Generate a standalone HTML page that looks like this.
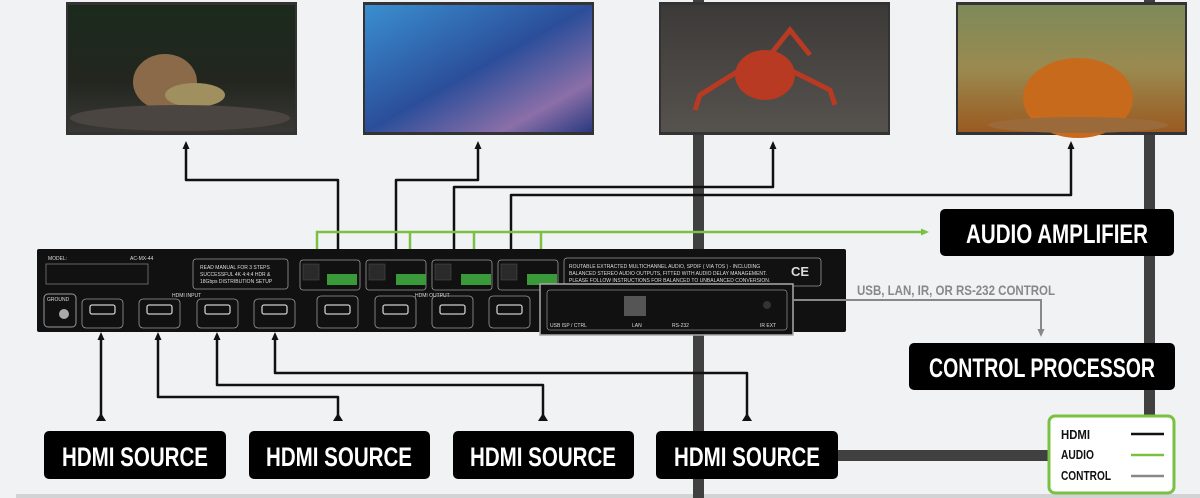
<!DOCTYPE html>
<html><head><meta charset="utf-8"><style>
html,body{margin:0;padding:0;background:#f1f2f4;}
svg{display:block}
.lbl{font-family:"Liberation Sans Narrow","Liberation Sans",sans-serif;font-weight:bold;fill:#fff}
.t{font-family:"Liberation Sans",sans-serif;fill:#ddd}
</style></head><body>
<svg width="1200" height="498" viewBox="0 0 1200 498" xmlns="http://www.w3.org/2000/svg">
<defs>
<linearGradient id="g1" x1="0" y1="0" x2="0" y2="1"><stop offset="0" stop-color="#1c2a1e"/><stop offset="0.6" stop-color="#22261f"/><stop offset="1" stop-color="#3a3835"/></linearGradient>
<linearGradient id="g2" x1="0" y1="0" x2="1" y2="1"><stop offset="0" stop-color="#3a8fd0"/><stop offset="0.5" stop-color="#2b4e9a"/><stop offset="0.8" stop-color="#8b6fa8"/><stop offset="1" stop-color="#2a3a80"/></linearGradient>
<linearGradient id="g3" x1="0" y1="0" x2="0" y2="1"><stop offset="0" stop-color="#3c3a38"/><stop offset="1" stop-color="#56524e"/></linearGradient>
<linearGradient id="g4" x1="0" y1="0" x2="0" y2="1"><stop offset="0" stop-color="#7d8a5a"/><stop offset="0.5" stop-color="#9a8a50"/><stop offset="1" stop-color="#9a5a20"/></linearGradient>
<marker id="ab" markerUnits="userSpaceOnUse" markerWidth="8" markerHeight="8" refX="5" refY="4" orient="auto"><path d="M0,0.5 L8,4 L0,7.5z" fill="#111"/></marker>
<marker id="ag" markerUnits="userSpaceOnUse" markerWidth="8" markerHeight="8" refX="5" refY="4" orient="auto"><path d="M0,0.5 L8,4 L0,7.5z" fill="#7ac143"/></marker>
<marker id="ac" markerUnits="userSpaceOnUse" markerWidth="8" markerHeight="8" refX="5" refY="4" orient="auto"><path d="M0,0.5 L8,4 L0,7.5z" fill="#888"/></marker>
</defs>
<rect x="16" y="494" width="1184" height="4" fill="#d2d3d5"/>
<rect x="693" y="0" width="11" height="498" fill="#404040"/>
<rect x="1144" y="0" width="11" height="420" fill="#404040"/>
<rect x="838" y="450" width="212" height="11" fill="#404040"/>
<!-- monitors -->
<rect x="66" y="2" width="231" height="133" fill="#333"/>
<rect x="68" y="5" width="227" height="127" fill="url(#g1)"/>
<ellipse cx="165" cy="82" rx="32" ry="28" fill="#8a6a48"/><ellipse cx="195" cy="95" rx="30" ry="12" fill="#a09060"/><ellipse cx="180" cy="118" rx="110" ry="13" fill="#4a4540"/>
<rect x="363" y="2" width="231" height="133" fill="#333"/>
<rect x="365" y="5" width="227" height="127" fill="url(#g2)"/>
<rect x="659" y="2" width="231" height="133" fill="#333"/>
<rect x="661" y="5" width="227" height="127" fill="url(#g3)"/>
<ellipse cx="765" cy="75" rx="30" ry="25" fill="#b83a22"/>
<g stroke="#b83a22" stroke-width="5" fill="none"><path d="M740,70 L700,95 L695,110"/><path d="M790,70 L830,90 L835,105"/><path d="M770,55 L790,30 L810,55"/></g>
<rect x="956" y="2" width="231" height="133" fill="#333"/>
<rect x="958" y="5" width="227" height="127" fill="url(#g4)"/>
<ellipse cx="1078" cy="98" rx="55" ry="40" fill="#c76a1c"/>
<ellipse cx="1078" cy="125" rx="90" ry="8" fill="#9a6a3a"/>
<!-- HDMI output lines -->
<g fill="none" stroke="#111" stroke-width="2.5" stroke-linejoin="round">
<path d="M338,298 V180 H186 V144" marker-end="url(#ab)"/>
<path d="M396,298 V180 H478 V144" marker-end="url(#ab)"/>
<path d="M454,298 V187 H773 V144" marker-end="url(#ab)"/>
<path d="M511,298 V195 H1071 V144" marker-end="url(#ab)"/>
</g>
<g fill="none" stroke="#7ac143" stroke-width="2.5">
<path d="M317,250 V232 H926" marker-end="url(#ag)"/>
<path d="M410,250 V232"/><path d="M474,250 V232"/><path d="M541,250 V232"/>
</g>
<!-- device -->
<rect x="37" y="249" width="809" height="83" rx="2" fill="#111"/>
<rect x="46" y="264" width="102" height="20" fill="none" stroke="#777" stroke-width="0.8"/>
<text x="48" y="260" class="t" font-size="5">MODEL:</text><text x="130" y="260" class="t" font-size="5">AC-MX-44</text>
<rect x="193" y="259" width="95" height="30" rx="3" fill="none" stroke="#999" stroke-width="0.8"/>
<text x="200" y="269" class="t" font-size="5">READ MANUAL FOR 3 STEPS</text>
<text x="200" y="276" class="t" font-size="5">SUCCESSFUL 4K 4:4:4 HDR &amp;</text>
<text x="200" y="283" class="t" font-size="5">18Gbps DISTRIBUTION SETUP</text>
<rect x="564" y="258" width="257" height="28" rx="3" fill="none" stroke="#999" stroke-width="0.8"/>
<text x="569" y="268" class="t" font-size="5">ROUTABLE EXTRACTED MULTICHANNEL AUDIO, SPDIF ( VIA TOS ) - INCLUDING</text>
<text x="569" y="275" class="t" font-size="5">BALANCED STEREO AUDIO OUTPUTS, FITTED WITH AUDIO DELAY MANAGEMENT.</text>
<text x="569" y="282" class="t" font-size="5">PLEASE FOLLOW INSTRUCTIONS FOR BALANCED TO UNBALANCED CONVERSION.</text>
<text x="791" y="276" class="t" font-size="13" font-weight="bold">CE</text>
<rect x="44" y="294" width="32" height="33" rx="4" fill="none" stroke="#999"/>
<circle cx="64" cy="314" r="5" fill="#aaa"/>
<text x="47" y="301" class="t" font-size="5">GROUND</text>
<text x="172" y="297" class="t" font-size="5">HDMI INPUT</text>
<text x="415" y="297" class="t" font-size="5">HDMI OUTPUT</text>
<g fill="none" stroke="#999" stroke-width="0.8">
<rect x="82" y="299" width="41" height="29" rx="4"/><rect x="139" y="299" width="41" height="29" rx="4"/>
<rect x="197" y="299" width="41" height="29" rx="4"/><rect x="254" y="299" width="41" height="29" rx="4"/>
<rect x="317" y="296" width="41" height="32" rx="4"/><rect x="375" y="296" width="41" height="32" rx="4"/>
<rect x="432" y="296" width="41" height="32" rx="4"/><rect x="489" y="296" width="41" height="32" rx="4"/>
<rect x="300" y="260" width="60" height="30" rx="3"/><rect x="366" y="260" width="60" height="30" rx="3"/>
<rect x="432" y="260" width="60" height="30" rx="3"/><rect x="498" y="260" width="60" height="30" rx="3"/>
</g>
<g fill="#2a2a2a" stroke="#555" stroke-width="0.5"><rect x="303" y="264" width="16" height="16"/><rect x="369" y="264" width="16" height="16"/><rect x="435" y="264" width="16" height="16"/><rect x="501" y="264" width="16" height="16"/></g>
<g fill="none" stroke="#ccc" stroke-width="1.3">
<rect x="90" y="305" width="25" height="9" rx="2"/><rect x="147" y="305" width="25" height="9" rx="2"/>
<rect x="205" y="305" width="25" height="9" rx="2"/><rect x="262" y="305" width="25" height="9" rx="2"/>
<rect x="325" y="305" width="25" height="9" rx="2"/><rect x="383" y="305" width="25" height="9" rx="2"/>
<rect x="440" y="305" width="25" height="9" rx="2"/><rect x="497" y="305" width="25" height="9" rx="2"/>
</g>
<g fill="#3a9a3a"><rect x="327" y="274" width="30" height="11"/><rect x="396" y="274" width="30" height="11"/><rect x="461" y="274" width="30" height="11"/><rect x="527" y="274" width="30" height="11"/><rect x="671" y="303" width="20" height="12"/></g>
<rect x="540" y="284" width="253" height="51" fill="#111" stroke="#aaa" stroke-width="1.5"/>
<rect x="547" y="290" width="240" height="40" rx="3" fill="none" stroke="#888" stroke-width="0.8"/>
<rect x="624" y="296" width="22" height="20" fill="#555"/>
<circle cx="767" cy="305" r="4" fill="#333"/>
<text x="550" y="327" class="t" font-size="5">USB ISP / CTRL</text><text x="632" y="327" class="t" font-size="5">LAN</text><text x="672" y="327" class="t" font-size="5">RS-232</text><text x="760" y="327" class="t" font-size="5">IR EXT</text>
<!-- inputs -->
<g fill="none" stroke="#111" stroke-width="2.5" stroke-linejoin="round">
<path d="M101,420 V335" marker-end="url(#ab)"/>
<path d="M338,420 V397 H158 V335" marker-end="url(#ab)"/>
<path d="M543,420 V385 H217 V335" marker-end="url(#ab)"/>
<path d="M747,420 V373 H275 V335" marker-end="url(#ab)"/>
</g>
<g fill="#111"><path d="M96,421 L101,413 L106,421z"/><path d="M333,421 L338,413 L343,421z"/><path d="M538,421 L543,413 L548,421z"/><path d="M742,421 L747,413 L752,421z"/></g>
<!-- control -->
<path d="M793,300 H1041 V334" fill="none" stroke="#888" stroke-width="2" marker-end="url(#ac)"/>
<text x="857" y="295" font-family="Liberation Sans Narrow,Liberation Sans,sans-serif" font-weight="bold" font-size="14" fill="#888" textLength="198" lengthAdjust="spacingAndGlyphs">USB, LAN, IR, OR RS-232 CONTROL</text>
<!-- label boxes -->
<rect x="940" y="209" width="234" height="47" rx="5" fill="#000"/>
<text x="1057" y="243" class="lbl" font-size="27" text-anchor="middle" textLength="182" lengthAdjust="spacingAndGlyphs">AUDIO AMPLIFIER</text>
<rect x="909" y="343" width="266" height="47" rx="5" fill="#000"/>
<text x="1042" y="377" class="lbl" font-size="27" text-anchor="middle" textLength="226" lengthAdjust="spacingAndGlyphs">CONTROL PROCESSOR</text>
<rect x="44" y="431" width="182" height="48" rx="5" fill="#000"/>
<text x="135" y="466" class="lbl" font-size="27" text-anchor="middle" textLength="146" lengthAdjust="spacingAndGlyphs">HDMI SOURCE</text>
<rect x="249" y="431" width="181" height="48" rx="5" fill="#000"/>
<text x="339" y="466" class="lbl" font-size="27" text-anchor="middle" textLength="146" lengthAdjust="spacingAndGlyphs">HDMI SOURCE</text>
<rect x="453" y="431" width="181" height="48" rx="5" fill="#000"/>
<text x="543" y="466" class="lbl" font-size="27" text-anchor="middle" textLength="146" lengthAdjust="spacingAndGlyphs">HDMI SOURCE</text>
<rect x="656" y="431" width="182" height="48" rx="5" fill="#000"/>
<text x="747" y="466" class="lbl" font-size="27" text-anchor="middle" textLength="146" lengthAdjust="spacingAndGlyphs">HDMI SOURCE</text>
<!-- legend -->
<rect x="1049" y="416" width="125" height="77" rx="6" fill="#fff" stroke="#7ac143" stroke-width="3"/>
<g font-family="Liberation Sans Narrow,Liberation Sans,sans-serif" font-weight="bold" font-size="13" fill="#111">
<text x="1061" y="439" textLength="29" lengthAdjust="spacingAndGlyphs">HDMI</text><text x="1061" y="459" textLength="33" lengthAdjust="spacingAndGlyphs">AUDIO</text><text x="1061" y="480" textLength="50" lengthAdjust="spacingAndGlyphs">CONTROL</text></g>
<line x1="1131" y1="434" x2="1164" y2="434" stroke="#111" stroke-width="2.5"/>
<line x1="1131" y1="455" x2="1164" y2="455" stroke="#7ac143" stroke-width="2.5"/>
<line x1="1131" y1="476" x2="1164" y2="476" stroke="#888" stroke-width="2.5"/>
</svg>
</body></html>
